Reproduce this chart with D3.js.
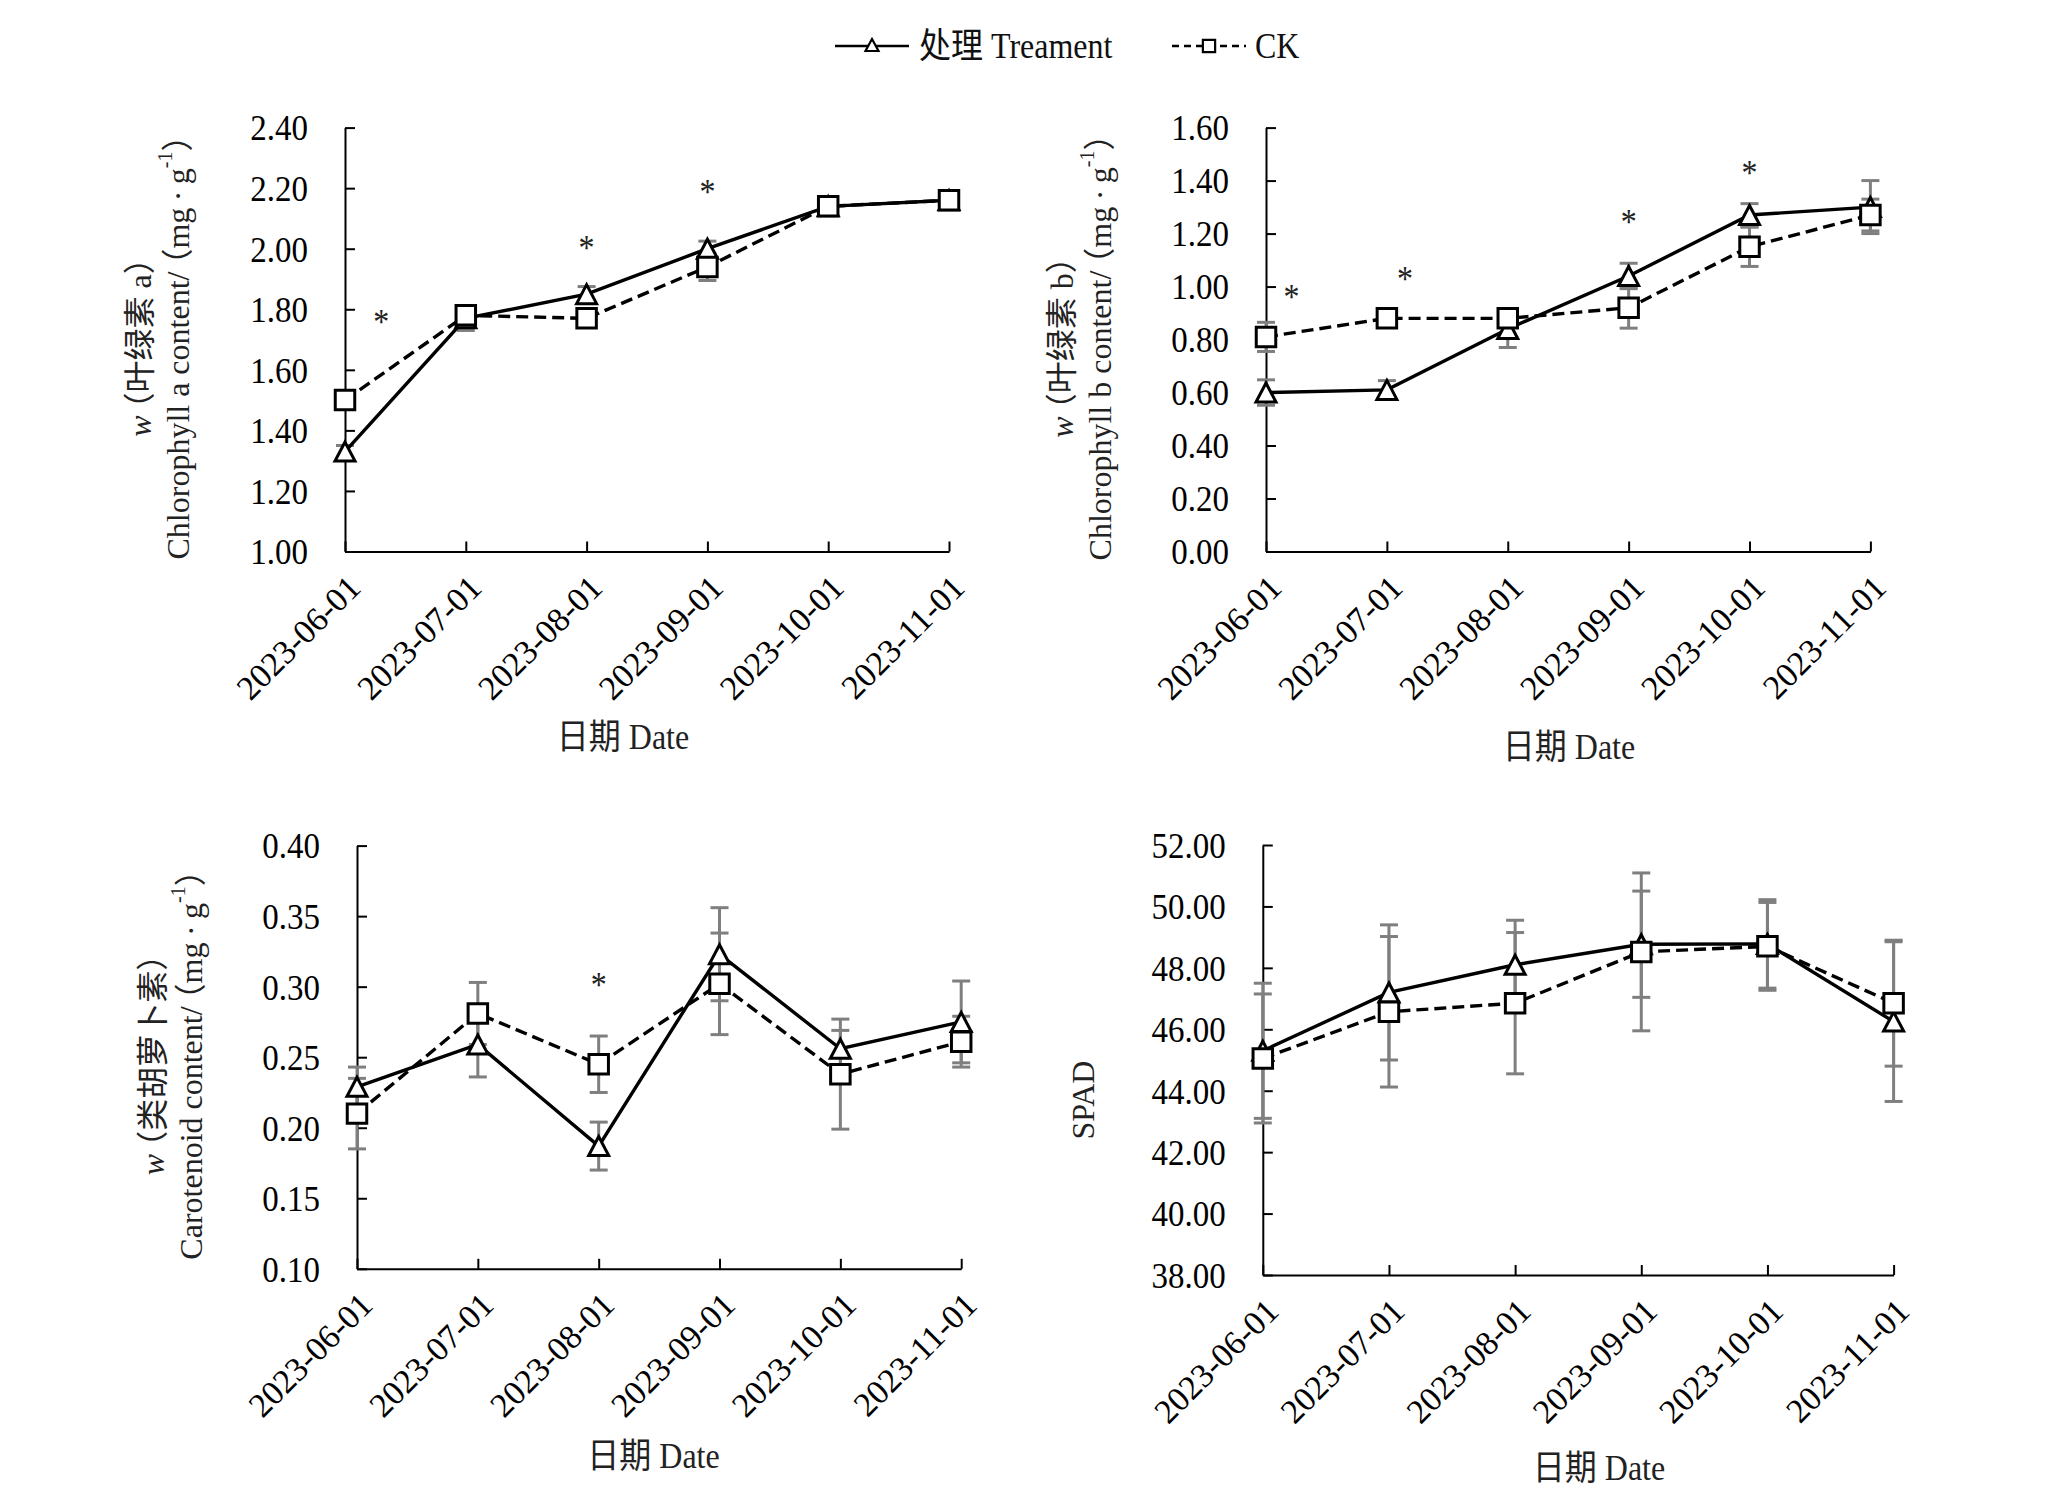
<!DOCTYPE html>
<html>
<head>
<meta charset="utf-8">
<script src="https://cdn.jsdelivr.net/npm/d3@7"></script>
<style>
  body { margin: 0; background: #fff; }
</style>
</head>
<body>
<div id="chart"></div>
<script>
// sampling dates (shared by the four panels)
const dates = ["2023-06-01", "2023-07-01", "2023-08-01", "2023-09-01", "2023-10-01", "2023-11-01"]

// chlorophyll a
const chlaTicks = [1.00, 1.20, 1.40, 1.60, 1.80, 2.00, 2.20, 2.40]
const chlaTreat = [1.33, 1.77, 1.85, 2.00, 2.14, 2.16]
const chlaTreatErr = [0.02, 0.04, 0.025, 0.025, 0.01, 0.01]
const chlaCK = [1.50, 1.78, 1.77, 1.94, 2.14, 2.16]
const chlaCKErr = [0.02, 0.03, 0.02, 0.045, 0.01, 0.01]
const chlaStars = [{at: 0.3, value: 1.775}, {at: 2, value: 2.02}, {at: 3, value: 2.205}]

// chlorophyll b
const chlbTicks = [0.00, 0.20, 0.40, 0.60, 0.80, 1.00, 1.20, 1.40, 1.60]
const chlbTreat = [0.60, 0.61, 0.84, 1.04, 1.27, 1.30]
const chlbTreatErr = [0.048, 0.035, 0.07, 0.048, 0.043, 0.10]
const chlbCK = [0.81, 0.88, 0.88, 0.92, 1.15, 1.27]
const chlbCKErr = [0.055, 0.02, 0.02, 0.077, 0.074, 0.06]
const chlbStars = [{at: 0.21, value: 0.98}, {at: 1.15, value: 1.05}, {at: 3, value: 1.265}, {at: 4, value: 1.45}]

// carotenoid
const carTicks = [0.10, 0.15, 0.20, 0.25, 0.30, 0.35, 0.40]
const carTreat = [0.229, 0.259, 0.187, 0.323, 0.256, 0.275]
const carTreatErr = [0.014, 0.023, 0.017, 0.033, 0.013, 0.029]
const carCK = [0.210, 0.281, 0.245, 0.302, 0.238, 0.261]
const carCKErr = [0.025, 0.022, 0.020, 0.036, 0.039, 0.018]
const carStars = [{at: 2, value: 0.305}]

// SPAD
const spadTicks = [38, 40, 42, 44, 46, 48, 50, 52]
const spadTreat = [45.3, 47.2, 48.1, 48.77, 48.78, 46.25]
const spadTreatErr = [2.2, 2.2, 1.45, 1.73, 1.44, 2.6]
const spadCK = [45.05, 46.57, 46.85, 48.52, 48.70, 46.85]
const spadCKErr = [2.1, 2.45, 2.3, 2.57, 1.43, 2.05]
const spadStars = []

const FONT = '"Liberation Serif", "Times New Roman", "Noto Sans CJK SC", serif'
// the source picture is a little stretched vertically, so flat text is too
const STRETCH = "scale(1,1.1)"

const svg = d3.select("#chart")
  .append("svg")
    .attr("width", 2046)
    .attr("height", 1503)
    .style("font-family", FONT)

svg.append("rect").attr("width", 2046).attr("height", 1503).attr("fill", "#fff")

// y titles: pieces of text, "pull" tightens the wide CJK bracket
const unit = [{t: "（", pull: true}, {t: "mg\u2009·\u2009g"}, {t: "-1", sup: true}, {t: "）"}]

// panel layout (pixels)
const panels = [
  {x0: 345, x1: 949, y0: 127.6, y1: 551.5, ticks: chlaTicks,
   treat: chlaTreat, treatErr: chlaTreatErr, ck: chlaCK, ckErr: chlaCKErr, stars: chlaStars,
   xTitle: [623, 737], yTitleY: 339.5, yTitleX: [140, 177.5],
   yTitle: [[{t: "w", it: true}, {t: "（", pull: true}, {t: "叶绿素 a）"}],
            [{t: "Chlorophyll a content/"}, ...unit]]},
  {x0: 1266, x1: 1870.4, y0: 127.6, y1: 551.5, ticks: chlbTicks,
   treat: chlbTreat, treatErr: chlbTreatErr, ck: chlbCK, ckErr: chlbCKErr, stars: chlbStars,
   xTitle: [1569, 747], yTitleY: 339.5, yTitleX: [1062, 1100],
   yTitle: [[{t: "w", it: true}, {t: "（", pull: true}, {t: "叶绿素 b）"}],
            [{t: "Chlorophyll b content/"}, ...unit]]},
  {x0: 357, x1: 961.2, y0: 845.6, y1: 1268.8, ticks: carTicks,
   treat: carTreat, treatErr: carTreatErr, ck: carCK, ckErr: carCKErr, stars: carStars,
   xTitle: [653.5, 1456], yTitleY: 1057, yTitleX: [153, 190.7],
   yTitle: [[{t: "w", it: true}, {t: "（", pull: true}, {t: "类胡萝卜素）"}],
            [{t: "Carotenoid content/"}, ...unit]]},
  {x0: 1262.8, x1: 1893.6, y0: 845, y1: 1275, ticks: spadTicks,
   treat: spadTreat, treatErr: spadTreatErr, ck: spadCK, ckErr: spadCKErr, stars: spadStars,
   xTitle: [1599, 1468], yTitleY: 1100, yTitleX: [1083],
   yTitle: [[{t: "SPAD"}]]}
]

// open triangle with its box centred on the point
const triPath = (w, h) => `M0,${-h / 2}L${w / 2},${h / 2}L${-w / 2},${h / 2}Z`
const square = d3.symbol(d3.symbolSquare, 380)

function drawPanel(p) {
  const g = svg.append("g")

  const x = d3.scaleLinear()
    .domain([0, dates.length - 1])
    .range([p.x0, p.x1])
  const y = d3.scaleLinear()
    .domain([p.ticks[0], p.ticks[p.ticks.length - 1]])
    .range([p.y1, p.y0])

  // Y axis, ticks pointing inside
  g.append("g")
    .attr("transform", `translate(${p.x0},0)`)
    .call(d3.axisLeft(y)
      .tickValues(p.ticks)
      .tickFormat(d3.format(".2f"))
      .tickSizeInner(-10)
      .tickSizeOuter(0)
      .tickPadding(37))
    .call(a => a.attr("font-family", FONT).attr("font-size", 33))
    .call(a => a.selectAll("path, line").attr("stroke", "#000").attr("stroke-width", 2))
    .call(a => a.selectAll("text").attr("fill", "#000").attr("dy", "0.34em").attr("transform", STRETCH))

  // X axis with rotated labels
  g.append("g")
    .attr("transform", `translate(0,${p.y1})`)
    .call(d3.axisBottom(x)
      .tickValues(d3.range(dates.length))
      .tickFormat(i => dates[i])
      .tickSizeInner(-10)
      .tickSizeOuter(0))
    .call(a => a.attr("font-family", FONT).attr("font-size", 34))
    .call(a => a.selectAll("path, line").attr("stroke", "#000").attr("stroke-width", 2))
    .call(a => a.selectAll("text")
      .attr("fill", "#000")
      .attr("y", null).attr("dy", null)
      .attr("text-anchor", "end")
      .attr("dominant-baseline", "central")
      .attr("transform", "translate(9,30) rotate(-45)"))

  // error bars (grey)
  const bars = g.append("g").attr("stroke", "#7f7f7f").attr("stroke-width", 3)
  ;[[p.treat, p.treatErr], [p.ck, p.ckErr]].forEach(([vals, errs]) => {
    vals.forEach((v, i) => {
      const cx = x(i), lo = y(v - errs[i]), hi = y(v + errs[i])
      bars.append("line").attr("x1", cx).attr("x2", cx).attr("y1", lo).attr("y2", hi)
      bars.append("line").attr("x1", cx - 9).attr("x2", cx + 9).attr("y1", lo).attr("y2", lo)
      bars.append("line").attr("x1", cx - 9).attr("x2", cx + 9).attr("y1", hi).attr("y2", hi)
    })
  })

  const line = d3.line().x((d, i) => x(i)).y(d => y(d))

  // treatment: solid line
  g.append("path")
    .datum(p.treat)
    .attr("d", line)
    .attr("fill", "none")
    .attr("stroke", "#000")
    .attr("stroke-width", 3.4)
  // CK: dashed line
  g.append("path")
    .datum(p.ck)
    .attr("d", line)
    .attr("fill", "none")
    .attr("stroke", "#000")
    .attr("stroke-width", 3.4)
    .attr("stroke-dasharray", "12,6")

  g.append("g")
    .selectAll("path")
    .data(p.treat)
    .join("path")
      .attr("d", triPath(20, 19))
      .attr("transform", (d, i) => `translate(${x(i)},${y(d)})`)
      .attr("fill", "#fff")
      .attr("stroke", "#000")
      .attr("stroke-width", 3)
      .attr("stroke-linejoin", "miter")
  g.append("g")
    .selectAll("path")
    .data(p.ck)
    .join("path")
      .attr("d", square)
      .attr("transform", (d, i) => `translate(${x(i)},${y(d)})`)
      .attr("fill", "#fff")
      .attr("stroke", "#000")
      .attr("stroke-width", 3)

  // significance stars
  g.append("g")
    .selectAll("text")
    .data(p.stars)
    .join("text")
      .attr("transform", d => `translate(${x(d.at)},${y(d.value)}) ${STRETCH}`)
      .attr("dy", 16)
      .attr("text-anchor", "middle")
      .attr("font-size", 32)
      .attr("fill", "#222")
      .text("*")

  // x axis title
  g.append("text")
    .attr("transform", `translate(${p.xTitle[0]},${p.xTitle[1]}) ${STRETCH}`)
    .attr("dominant-baseline", "central")
    .attr("text-anchor", "middle")
    .attr("font-size", 32)
    .attr("fill", "#222")
    .text("日期 Date")

  // y axis title (one or two rotated lines)
  p.yTitle.forEach((parts, li) => {
    const t = g.append("text")
      .attr("transform", `translate(${p.yTitleX[li]},${p.yTitleY}) rotate(-90)`)
      .attr("text-anchor", "middle")
      .attr("dominant-baseline", "central")
      .attr("font-size", 32)
      .attr("fill", "#222")
    const supAt = parts.findIndex(q => q.sup)
    parts.forEach((s, k) => {
      const ts = t.append("tspan").text(s.t)
      if (s.it) ts.attr("font-style", "italic")
      if (s.pull) ts.attr("dx", -9)
      if (s.sup) ts.attr("font-size", 20).attr("dy", -13)
      else if (supAt >= 0 && k > supAt) ts.attr("dy", 13)
    })
  })
}

panels.forEach(drawPanel)

// legend
const legend = svg.append("g").attr("font-size", 32)
legend.append("line")
  .attr("x1", 835).attr("x2", 909).attr("y1", 46).attr("y2", 46)
  .attr("stroke", "#000").attr("stroke-width", 2.5)
legend.append("path")
  .attr("d", triPath(13, 12))
  .attr("transform", "translate(872,45)")
  .attr("fill", "#fff").attr("stroke", "#000").attr("stroke-width", 2.2)
legend.append("text")
  .attr("transform", `translate(919,46) ${STRETCH}`)
  .attr("dominant-baseline", "central")
  .attr("fill", "#111")
  .text("处理 Treament")

legend.append("line")
  .attr("x1", 1172).attr("x2", 1246).attr("y1", 46).attr("y2", 46)
  .attr("stroke", "#000").attr("stroke-width", 2.5)
  .attr("stroke-dasharray", "7,5")
legend.append("path")
  .attr("d", d3.symbol(d3.symbolSquare, 150))
  .attr("transform", "translate(1209,46)")
  .attr("fill", "#fff").attr("stroke", "#000").attr("stroke-width", 2.2)
legend.append("text")
  .attr("transform", `translate(1255,46) ${STRETCH}`)
  .attr("dominant-baseline", "central")
  .attr("fill", "#111")
  .text("CK")
</script>
</body>
</html>
